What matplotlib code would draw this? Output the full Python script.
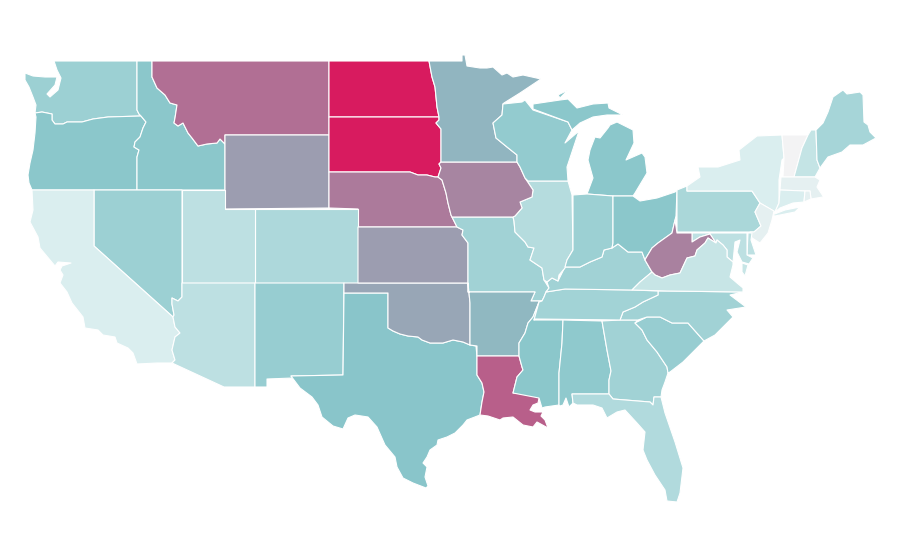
import matplotlib
matplotlib.use("Agg")
import matplotlib.pyplot as plt
from matplotlib.colors import LinearSegmentedColormap
from matplotlib.patches import Polygon

# choropleth values (0 = palest, 100 = crimson)
STATE_VALUES = {
    "VT": 0, "MA": 7, "RI": 7, "NJ": 7, "CA": 12, "NY": 12, "CT": 12, "VA": 21, "NH": 22,
    "DE": 25, "MD": 25, "UT": 25, "AZ": 25, "IL": 29, "FL": 31, "CO": 33, "PA": 34, "ME": 36,
    "TN": 38, "KY": 39, "MO": 39, "NC": 39, "GA": 39, "IN": 41, "WA": 41, "NV": 41, "NM": 43,
    "SC": 43, "WI": 45, "AL": 47, "OR": 49, "ID": 49, "MI": 49, "MS": 49, "OH": 49, "TX": 50,
    "AR": 54, "MN": 55, "OK": 59, "KS": 62, "WY": 62, "IA": 69, "WV": 70, "NE": 72, "MT": 75,
    "LA": 80, "ND": 100, "SD": 100,
}
COLOR_STOPS = [(0.0, "#F3F3F4"), (0.12, "#D9EEEF"), (0.5, "#89C6CA"), (1.0, "#D81B5F")]

# shared state borders, in map units
WA_OR = [(141,116),(108,117),(93,119),(82,122),(67,122),(63,124),(55,124),(52,120),(52,114),(42,112),(35,113)]
OR_ID = [(141,116),(146,122),(143,128),(140,137),(135,142),(134,147),(139,150),(137,157),(137,190)]
ID_MT = [(152,61),(152,77),(157,88),(165,95),(170,103),(177,105),(175,118),(174,123),(178,126),(183,123),
         (188,133),(192,138),(198,146),(207,144),(217,143),(220,139),(225,144)]
NV_AZ = [(182,283),(182,297),(178,301),(172,298),(172,304),(174,315),(173,317)]
CA_AZ = [(173,317),(175,327),(180,333),(175,337),(172,350),(175,360),(172,363)]
RED_RIVER = [(388,328),(393,331),(400,334),(408,336),(418,337),(422,340),(430,343),(443,343),(453,340),
             (463,342),(470,345),(476,346)]
TX_LA = [(477,357),(477,375),(482,383),(484,392),(482,402),(480,415)]
SD_NE = [(329,172),(410,172),(418,175),(427,175),(435,177),(438,177)]
NE_IA = [(438,177),(442,180),(446,193),(448,203),(451,215),(452,217)]
SD_MN = [(439,117),(439,120),(436,123),(441,129),(441,162)]
ND_MN = [(429,61),(432,77),(435,87),(437,107),(439,117)]
MN_WI = [(503,104),(502,115),(493,123),(496,138),(507,147),(517,155),(517,162)]
IA_IL = [(517,162),(520,167),(525,178),(533,190),(532,197),(520,202),(522,208),(515,216),(513,217)]
MO_IL = [(513,217),(514,221),(515,232),(525,242),(528,247),(534,248),(530,260),(542,268),(544,280),(549,288)]
MO_TN = [(549,288),(546,292),(544,297),(542,301)]
AR_MS = [(539,302),(533,317),(528,323),(525,333),(519,343),(519,356)]
LA_MS = [(519,356),(522,367),(523,370),(517,377),(513,393),(540,394)]
KY_OHIO = [(546,292),(549,288),(547,282),(552,278),(558,281),(565,267),(580,267),(590,262),(602,257),(604,250),(612,248),
           (618,244),(628,252),(642,252),(645,260)]
GA_SC = [(635,323),(642,330),(647,340),(657,352),(667,367),(668,373)]
SC_NC = [(635,323),(647,317),(660,317),(672,323),(688,323),(704,341)]
TN_NC = [(658,291),(658,295),(643,302),(635,307),(623,312),(620,320)]
AL_GA = [(602,321),(607,350),(611,371),(609,380),(609,394)]
GA_FL = [(609,394),(613,399),(650,402),(653,405),(654,397),(661,397)]
WV_KY = [(645,260),(652,272)]
WV_VA = [(652,272),(655,275),(662,278),(670,275),(680,273),(687,258),(695,256),(697,250),(705,243),(708,238),(716,243)]
WV_MD = [(716,243),(710,234),(700,237),(692,242),(692,233)]
NJ_PA = [(752,191),(760,203),(755,212),(761,226),(754,232)]

STATE_SHAPES = {
    "WA": [[(54,61),(137,61),(137,110),(139,114)] + WA_OR + [(36,105),(33,97),(29,87),(25,80),(25,73),(33,76),
           (45,77),(57,77),(55,85),(47,94),(50,97),(58,90),(61,78),(57,70)]],
    "OR": [WA_OR[::-1] + OR_ID + [(32,190),(29,183),(28,175),(30,163),(33,150),(35,133),(36,117)]],
    "ID": [[(137,61)] + ID_MT + [(225,190),(137,190)] + OR_ID[::-1] + [(139,114),(137,110)]],
    "MT": [ID_MT + [(225,135),(329,135),(329,61)]],
    "WY": [[(225,135),(329,135),(329,208),(225,209)]],
    "ND": [[(329,61)] + ND_MN + [(329,117)]],
    "SD": [[(329,117)] + SD_MN + [(439,164),(441,168)] + SD_NE[::-1]],
    "NE": [SD_NE + NE_IA[1:] + [(457,227),(358,227),(358,209),(329,208)]],
    "CO": [[(255,209),(358,209),(358,283),(255,283)]],
    "UT": [[(182,190),(225,190),(225,209),(255,209),(255,283),(182,283)]],
    "NV": [[(94,190),(182,190)] + NV_AZ + [(94,246)]],
    "CA": [[(32,190),(94,190),(94,246)] + CA_AZ + [(157,363),(137,364),(133,353),(128,348),(117,343),(115,337),
           (103,335),(98,330),(85,328),(83,317),(72,303),(67,292),(60,283),(63,275),(60,270),(62,266),(71,263),
           (58,262),(55,266),(50,260),(40,248),(38,237),(30,222),(33,210)]],
    "AZ": [[(182,283),(255,283),(255,387),(224,387)] + CA_AZ[::-1] + NV_AZ[::-1][1:-1]],
    "NM": [[(255,283),(344,283),(343,375),(291,376),(293,378),(267,379),(267,387),(255,387)]],
    "TX": [[(344,293),(388,293)] + RED_RIVER + TX_LA + [(467,420),(463,425),(455,433),(447,437),(438,440),(437,445),
           (430,450),(427,457),(423,463),(427,467),(425,477),(428,486),(426,488),(413,483),(403,478),(397,467),
           (395,457),(385,445),(377,427),(368,417),(355,415),(348,418),(343,429),(333,426),(322,417),(318,405),
           (312,397),(300,388),(291,376),(343,375)]],
    "OK": [[(344,283),(468,283),(470,303)] + RED_RIVER[::-1][1:] + [(388,293),(344,293)]],
    "KS": [[(358,227),(457,227),(463,230),(462,235),(468,243),(468,283),(358,283)]],
    "MO": [[(452,217)] + MO_IL + MO_TN + [(531,301),(535,292),(468,292),(468,243),(462,235),(463,230),(457,227)]],
    "AR": [[(468,292),(535,292),(531,301),(542,301)] + AR_MS + [(477,356),(477,346),(470,345),(470,303),(468,283)]],
    "LA": [[(477,356)] + LA_MS[:-1] + [(540,394),(538,403),(533,405),(530,410),(535,412),(543,412),(541,416),(545,420),
           (548,428),(537,422),(533,427),(523,425),(513,417),(503,418),(500,420),(488,416)] + TX_LA[::-1]],
    "MS": [[(534,320),(563,320),(562,343),(559,373),(559,405),(545,407),(542,408),(539,398)] + LA_MS[::-1][1:] + AR_MS[::-1][1:]],
    "AL": [[(563,320)] + AL_GA + [(572,394),(573,403),(569,407),(566,398),(563,405),(560,406),(559,405),(559,373),(562,343)]],
    "GA": [[(602,321),(620,320),(638,320),(635,323)] + GA_SC[1:] + [(665,382),(662,390),(661,397)] + GA_FL[::-1][1:] + AL_GA[::-1][1:]],
    "FL": [[(572,394)] + GA_FL + [(665,413),(675,442),(683,468),(680,493),(677,502),(667,501),(665,490),(655,475),(647,460),
           (643,450),(645,432),(637,423),(625,410),(617,412),(607,418),(602,408),(593,405),(577,405),(573,403)]],
    "SC": [SC_NC + [(695,350),(683,362),(670,372)] + GA_SC[::-1]],
    "NC": [[(658,291),(667,291),(743,292),(730,295),(746,307),(727,310),(733,317),(715,335)] + SC_NC[::-1][:-1] + [(638,320),(620,320)] + TN_NC[::-1][1:]],
    "TN": [[(546,292),(565,289),(633,290)] + TN_NC + [(535,319),(534,320),(539,302),(542,301),(544,297)]],
    "KY": [KY_OHIO + WV_KY + [(640,282),(632,290),(565,289)]],
    "IL": [[(528,181),(568,181),(572,195),(573,250),(567,260),(565,268),(559,275),(558,281),(552,278),(547,282)] + MO_IL[:-1][::-1] + IA_IL[::-1][:-1]],
    "IA": [[(441,162),(517,162)] + IA_IL[1:] + NE_IA[::-1] + [(441,168),(439,164)]],
    "MN": [ND_MN[:1] + [(462,61),(462,55),(465,55),(467,66),(480,68),(487,68),(493,67),(502,75),(507,73),(513,77),(523,75),
           (541,79),(520,93),(504,103)] + MN_WI + SD_MN[::-1] + ND_MN[::-1][1:]],
    "WI": [MN_WI[::-1] + [(522,102),(525,100),(533,110),(568,122),(572,130),(565,143),(579,131),(572,152),(567,167),(568,181),(528,181),(525,178),(520,167)]],
    "MI": [[(533,109),(533,104),(560,100),(568,99),(577,108),(593,104),(608,103),(609,108),(623,115),(607,115),(593,117),
            (580,123),(572,130),(568,122)],
           [(558,95),(568,90),(560,98)],
           [(610,125),(617,122),(633,130),(634,143),(626,160),(642,153),(645,157),(647,173),(635,193),(633,196),(613,196),
            (587,194),(593,178),(588,160),(590,150),(595,137),(600,138),(608,128)]],
    "IN": [[(573,195),(587,194),(613,196),(613,243),(612,248),(604,250),(602,257),(590,262),(580,267),(565,267),(567,260),(573,250)]],
    "OH": [[(613,196),(633,196),(640,201),(657,198),(675,192),(677,190),(676,216),(675,220),(672,233),(658,243),(652,248),(646,258),
            (645,260),(642,252),(628,252),(618,244),(612,248),(613,243)]],
    "PA": [[(677,190),(687,186),(687,191),(752,191)] + NJ_PA[1:] + [(677,232)]],
    "NY": [[(687,191),(687,186),(700,177),(698,167),(718,167),(740,160),(739,150),(757,136),(782,135),(784,158),(782,160),
            (779,180),(779,203),(775,212),(760,203),(752,191)],
           [(772,215),(785,210),(800,207),(795,212),(775,216)]],
    "NJ": [NJ_PA[1:] + [(750,232),(752,238),(760,243),(768,233),(772,220),(774,211)]],
    "VT": [[(782,135),(808,135),(802,148),(794,177),(783,177),(784,158)]],
    "NH": [[(808,135),(811,130),(816,130),(817,160),(820,168),(815,177),(794,177),(802,148)]],
    "ME": [[(816,130),(823,123),(828,112),(833,97),(843,90),(847,94),(860,92),(863,95),(864,122),(868,125),(870,132),(876,138),
            (863,145),(850,145),(842,152),(828,157),(820,168),(817,160)]],
    "MA": [[(781,177),(815,177),(820,180),(817,187),(823,196),(830,196),(823,197),(817,198),(811,199),(810,191),(805,191),(780,190)]],
    "CT": [[(780,190),(805,191),(804,202),(793,203),(780,208),(775,212),(779,203)]],
    "RI": [[(805,191),(810,191),(811,199),(804,202)]],
    "DE": [[(748,233),(752,233),(751,240),(756,255),(747,255)]],
    "MD": [[(692,233),(747,233),(747,255),(753,258),(749,264),(742,262),(737,252),(740,240),(735,242),(733,262),(727,257),
            (727,250),(723,245),(717,240)] + WV_MD],
    "WV": [[(675,220),(677,233),(692,233),(692,242),(700,237),(710,234)] + WV_VA[::-1] + WV_KY[::-1] + [(646,258),(652,248),(658,243),(672,233)]],
    "VA": [[(632,290),(640,282)] + WV_VA + [(717,240),(723,245),(727,250),(727,257),(733,262),(733,265),(730,277),(737,283),(743,288),(743,292),(667,291)],
           [(742,263),(748,265),(745,276),(742,272)]],
}

fig = plt.figure(figsize=(9, 5.6), dpi=100, facecolor="white")
ax = fig.add_axes([0, 0, 1, 1])
ax.set_xlim(0, 900)
ax.set_ylim(560, 0)
ax.axis("off")

cmap = LinearSegmentedColormap.from_list("rates", COLOR_STOPS)
for state, parts in STATE_SHAPES.items():
    for part in parts:
        ax.add_patch(Polygon(part, closed=True, facecolor=cmap(STATE_VALUES[state] / 100),
                             edgecolor="white", linewidth=0.8, joinstyle="round"))

fig.savefig("out.png", dpi=100, facecolor="white")
